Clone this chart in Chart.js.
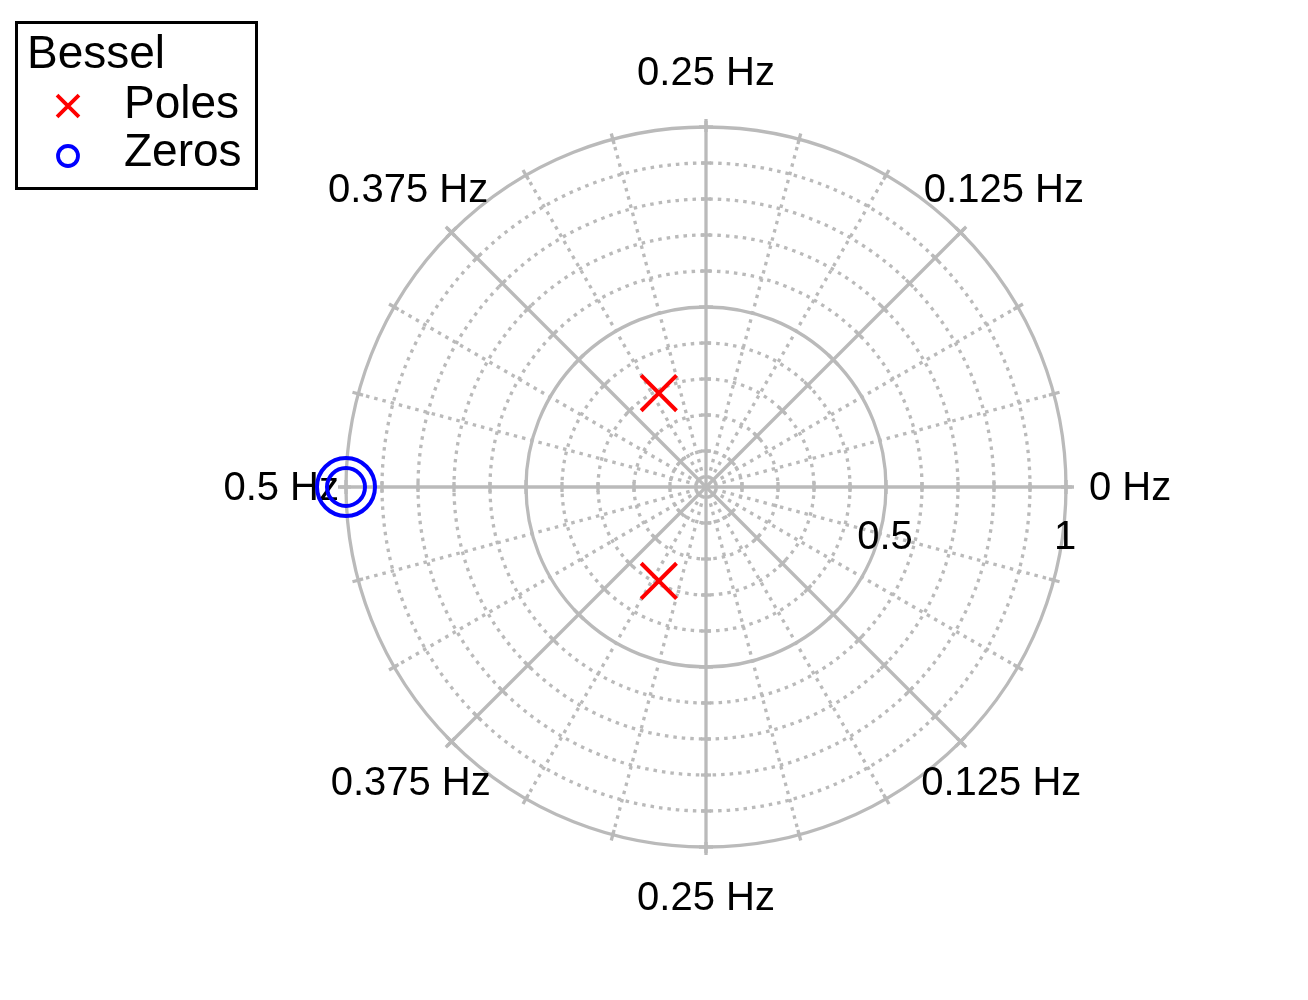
<!DOCTYPE html>
<html>
<head>
<meta charset="utf-8">
<script src="https://cdn.jsdelivr.net/npm/chart.js@4"></script>
<style>
  body { margin: 0; background: #fff; }
  #wrap { width: 1308px; height: 1000px; }
</style>
</head>
<body>
<div id="wrap"><canvas id="chart-area"></canvas></div>
<script>
// pole / zero locations in the z-plane
var poleRe = [-0.131, -0.131];
var poleIm = [0.261, -0.261];
var zeroRe = [-1, -1];
var zeroIm = [0, 0];

// grid and tick labels
var ringValues = [0.1, 0.2, 0.3, 0.4, 0.5, 0.6, 0.7, 0.8, 0.9, 1];
var radialTickValues = [0.5, 1];
var radialTickLabels = ['0.5', '1'];
var freqAngles = [0, 45, 90, 135, 180, 225, 270, 315];
var freqLabels = ['0 Hz', '0.125 Hz', '0.25 Hz', '0.375 Hz', '0.5 Hz', '0.375 Hz', '0.25 Hz', '0.125 Hz'];
var legendTitle = 'Bessel';

var gridColor = 'rgb(186,186,186)';
var font = '"Liberation Sans", Arial, Helvetica, sans-serif';

function toPoints(re, im) {
  return re.map(function (v, i) { return { x: v, y: im[i] }; });
}

// label distance from centre (in units of the unit circle), per angle
var labelDist = { 0: 1.178, 45: 1.17, 90: 1.153, 135: 1.17, 180: 1.18, 225: 1.16, 270: 1.139, 315: 1.16 };

var polarGrid = {
  id: 'polarGrid',
  beforeDatasetsDraw: function (chart) {
    var ctx = chart.ctx, xs = chart.scales.x, ys = chart.scales.y;
    var cx = xs.getPixelForValue(0), cy = ys.getPixelForValue(0);
    var R = xs.getPixelForValue(1) - cx;
    var a, deg;
    ctx.save();
    ctx.strokeStyle = gridColor;
    ctx.lineWidth = 3.3;
    ctx.lineCap = 'butt';

    // dotted rings and spokes
    ctx.setLineDash([3.5, 5]);
    ringValues.forEach(function (v) {
      if (v === 0.5 || v === 1) return;
      ctx.beginPath();
      ctx.arc(cx, cy, v * R, 0, Math.PI * 2);
      ctx.stroke();
    });
    for (deg = 0; deg < 360; deg += 15) {
      if (deg % 45 === 0) continue;
      a = deg * Math.PI / 180;
      ctx.beginPath();
      ctx.moveTo(cx, cy);
      ctx.lineTo(cx + R * Math.cos(a), cy - R * Math.sin(a));
      ctx.stroke();
    }
    ctx.setLineDash([]);

    // solid rings
    [0.5, 1].forEach(function (v) {
      ctx.beginPath();
      ctx.arc(cx, cy, v * R, 0, Math.PI * 2);
      ctx.stroke();
    });

    // solid spokes with ticks
    freqAngles.forEach(function (d) {
      var an = d * Math.PI / 180, c = Math.cos(an), s = Math.sin(an);
      ctx.beginPath();
      ctx.moveTo(cx, cy);
      ctx.lineTo(cx + (R + 8) * c, cy - (R + 8) * s);
      ctx.stroke();
      ringValues.forEach(function (v) {
        var t = (v === 0.5 || v === 1) ? 7 : 5;
        var px = cx + v * R * c, py = cy - v * R * s;
        ctx.beginPath();
        ctx.moveTo(px - t * s, py - t * c);
        ctx.lineTo(px + t * s, py + t * c);
        ctx.stroke();
      });
    });

    // ticks across the outer ring every 15 degrees
    for (deg = 0; deg < 360; deg += 15) {
      a = deg * Math.PI / 180;
      ctx.beginPath();
      ctx.moveTo(cx + (R - 5) * Math.cos(a), cy - (R - 5) * Math.sin(a));
      ctx.lineTo(cx + (R + 6) * Math.cos(a), cy - (R + 6) * Math.sin(a));
      ctx.stroke();
    }

    // labels
    ctx.fillStyle = '#000';
    ctx.font = '40px ' + font;
    ctx.textAlign = 'center';
    ctx.textBaseline = 'middle';
    freqAngles.forEach(function (d, k) {
      var an = d * Math.PI / 180, dist = labelDist[d] * R;
      ctx.fillText(freqLabels[k], cx + dist * Math.cos(an), cy - dist * Math.sin(an) + 2);
    });
    radialTickValues.forEach(function (v, k) {
      ctx.fillText(radialTickLabels[k], cx + v * R - 1, cy + 51);
    });
    ctx.restore();
  },
  afterDraw: function (chart) {
    var ctx = chart.ctx;
    ctx.save();
    ctx.strokeStyle = '#000';
    ctx.lineWidth = 3;
    ctx.strokeRect(16.5, 22.5, 240, 166);
    ctx.fillStyle = '#000';
    ctx.font = '46px ' + font;
    ctx.textAlign = 'left';
    ctx.textBaseline = 'alphabetic';
    ctx.fillText(legendTitle, 27, 68);
    var rows = [
      { ds: chart.data.datasets[0], y: 106, base: 118, radius: 15.5 },
      { ds: chart.data.datasets[1], y: 156, base: 166, radius: 10 }
    ];
    rows.forEach(function (row) {
      ctx.fillStyle = 'rgba(0,0,0,0)';
      ctx.strokeStyle = row.ds.borderColor;
      ctx.lineWidth = 3.8;
      Chart.helpers.drawPoint(ctx, {
        pointStyle: row.ds.pointStyle,
        radius: row.radius,
        borderWidth: 3.8
      }, 68, row.y);
      ctx.fillStyle = '#000';
      ctx.fillText(row.ds.label, 124, row.base);
    });
    ctx.restore();
  }
};

var config = {
  type: 'scatter',
  data: {
    datasets: [{
      label: 'Poles',
      data: toPoints(poleRe, poleIm),
      pointStyle: 'crossRot',
      pointRadius: 25,
      borderColor: '#ff0000',
      backgroundColor: '#ff0000',
      borderWidth: 4
    }, {
      label: 'Zeros',
      data: toPoints(zeroRe, zeroIm),
      pointStyle: 'circle',
      pointRadius: [29, 19],
      borderColor: '#0000ff',
      backgroundColor: 'rgba(0,0,0,0)',
      borderWidth: 4
    }]
  },
  options: {
    responsive: true,
    maintainAspectRatio: false,
    animation: false,
    events: [],
    layout: { padding: 0, autoPadding: false },
    scales: {
      x: { type: 'linear', display: false, min: -706 / 360, max: 602 / 360 },
      y: { type: 'linear', display: false, min: -513 / 360, max: 487 / 360 }
    },
    plugins: {
      legend: { display: false },
      tooltip: { enabled: false }
    }
  },
  plugins: [polarGrid]
};

var ctx = document.getElementById('chart-area').getContext('2d');
window.myChart = new Chart(ctx, config);
</script>
</body>
</html>
